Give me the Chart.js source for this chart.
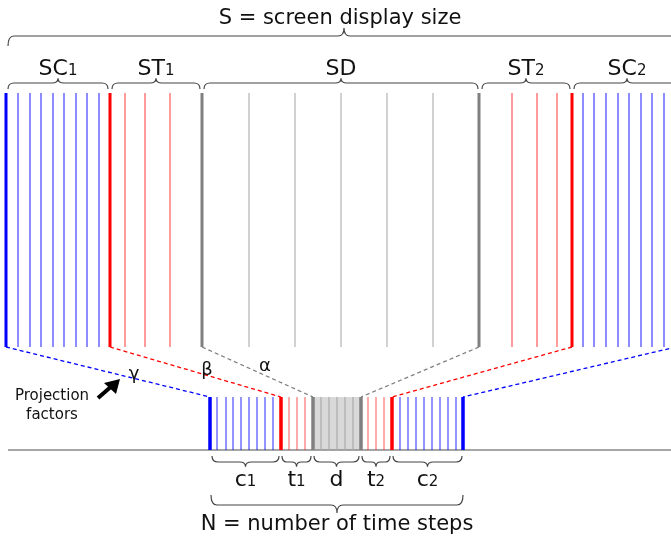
<!DOCTYPE html>
<html><head><meta charset="utf-8">
<script src="https://cdn.jsdelivr.net/npm/chart.js@4"></script>
<style>html,body{margin:0;padding:0;background:#fff}</style>
</head><body>
<canvas id="c" width="671" height="538"></canvas>
<script>
// Top (screen) lines
const topY = [93, 347];
const topBlueThick = [6, 676];
const topBlueThin = [18,30,41,53,64,76,87,99, 583,594,606,618,629,641,652,664];
const topRedThick = [110, 572];
const topRedThin = [125,145,170, 512,537,557];
const topGrayThick = [202, 479];
const topGrayThin = [249,295,341,387,433];
// Bottom (time step) lines
const botY = [397, 450];
const botBlueThick = [210, 463];
const botBlueThin = [217,226,233,241,249,257,265,273, 400,408,416,424,432,440,448,456];
const botRedThick = [281, 392];
const botRedThin = [289,297,305, 368,376,384];
const botGrayThick = [313, 361];
const botGrayThin = [321,329,337,345,353];
// projection pairs
const projTop = [6,110,202,479,572,676];
const projBot = [210,281,313,361,392,463];
const projCol = ['#0000ff','#ff0000','#808080','#808080','#ff0000','#0000ff'];
// braces: [x1,x2,label,sub]
const topBraces = [[8,108,'SC','1'],[112,200,'ST','1'],[204,478,'SD',''],[482,570,'ST','2'],[574,680,'SC','2']];
const botBraces = [[212,279,'c','1'],[282,311,'t','1'],[314,359,'d',''],[362,390,'t','2'],[393,462,'c','2']];

const ds = [];
function vlines(xs, ys, color, w){
  xs.forEach(x=>ds.push({data:[{x:x,y:ys[0]},{x:x,y:ys[1]}],borderColor:color,borderWidth:w,pointRadius:0,showLine:true,fill:false,order:1}));
}
ds.push({data:[{x:botGrayThick[0],y:botY[0]},{x:botGrayThick[1],y:botY[0]}],borderColor:'#d9d9d9',backgroundColor:'#d9d9d9',borderWidth:0,pointRadius:0,showLine:true,fill:{value:botY[1]},order:10});
ds.push({data:[{x:8,y:450},{x:671,y:450}],borderColor:'#888',borderWidth:1.5,pointRadius:0,showLine:true,order:5});
vlines(topBlueThin, topY, 'rgba(0,0,255,0.75)', 1.2);
vlines(topRedThin, topY, 'rgba(255,0,0,0.65)', 1.2);
vlines(topGrayThin, topY, 'rgba(128,128,128,0.6)', 1.2);
vlines(topBlueThick, topY, '#0000ff', 3);
vlines(topRedThick, topY, '#ff0000', 3);
vlines(topGrayThick, topY, '#808080', 3);
vlines(botBlueThin, botY, 'rgba(0,0,255,0.7)', 1.2);
vlines(botRedThin, botY, 'rgba(255,0,0,0.55)', 1.2);
vlines(botGrayThin, botY, '#aaaaaa', 1.2);
vlines(botBlueThick, botY, '#0000ff', 3.5);
vlines(botRedThick, botY, '#ff0000', 3.5);
vlines(botGrayThick, botY, '#808080', 3.5);
projTop.forEach((t,i)=>ds.push({data:[{x:t,y:topY[1]},{x:projBot[i],y:botY[0]}],borderColor:projCol[i],borderWidth:1.3,borderDash:[4,3],pointRadius:0,showLine:true,order:2}));

const FONT = '"DejaVu Sans", Verdana, sans-serif';
const overlay = {
  id:'overlay',
  afterDatasetsDraw(chart){
    const c = chart.ctx, X = v=>chart.scales.x.getPixelForValue(v), Y = v=>chart.scales.y.getPixelForValue(v);
    c.save();
    function brace(x1,x2,y,h,down){
      const a=X(x1), b=X(x2), yy=Y(y), m=(a+b)/2, s = down?1:-1, r=Math.min(6,(b-a)/6);
      c.beginPath(); c.strokeStyle='#444'; c.lineWidth=1.2;
      c.moveTo(a, yy+s*h);
      c.quadraticCurveTo(a, yy, a+r, yy);
      c.lineTo(m-r, yy);
      c.quadraticCurveTo(m, yy, m, yy-s*h*0.8);
      c.quadraticCurveTo(m, yy, m+r, yy);
      c.lineTo(b-r, yy);
      c.quadraticCurveTo(b, yy, b, yy+s*h);
      c.stroke();
    }
    function sub(txt, s, cx, y, fs){
      c.fillStyle='#111'; c.textBaseline='alphabetic';
      c.font = fs+'px '+FONT; const w1=c.measureText(txt).width;
      c.font = Math.round(fs*0.7)+'px '+FONT; const w2=s?c.measureText(s).width:0;
      const x0 = X(cx)-(w1+w2)/2;
      c.font = fs+'px '+FONT; c.textAlign='left'; c.fillText(txt, x0, Y(y));
      if(s){ c.font = Math.round(fs*0.7)+'px '+FONT; c.fillText(s, x0+w1, Y(y)); }
    }
    brace(8, 680, 36, 10, true);
    c.fillStyle='#111'; c.font='21px '+FONT; c.textAlign='center'; c.textBaseline='alphabetic';
    c.fillText('S = screen display size', X(340), Y(24));
    topBraces.forEach(b=>{ brace(b[0],b[1],83,6,true); sub(b[2],b[3],(b[0]+b[1])/2,75,22); });
    botBraces.forEach(b=>{ brace(b[0],b[1],462,6,false); sub(b[2],b[3],(b[0]+b[1])/2,486,22); });
    brace(211, 463, 505, 10, false);
    c.fillStyle='#111'; c.font='21px '+FONT; c.textAlign='center';
    c.fillText('N = number of time steps', X(337), Y(530));
    c.font='18px '+FONT;
    c.fillText('\u03b3', X(134), Y(379));
    c.fillText('\u03b2', X(207), Y(375));
    c.fillText('\u03b1', X(265), Y(371));
    c.font='15px '+FONT;
    c.fillText('Projection', X(52), Y(400));
    c.fillText('factors', X(52), Y(419));
    c.strokeStyle='#000'; c.fillStyle='#000'; c.lineWidth=4;
    c.beginPath(); c.moveTo(X(98),Y(398)); c.lineTo(X(113),Y(385)); c.stroke();
    c.beginPath(); c.moveTo(X(120),Y(379)); c.lineTo(X(104),Y(383)); c.lineTo(X(116),Y(394)); c.closePath(); c.fill();
    c.restore();
  }
};

new Chart(document.getElementById('c'), {
  type:'scatter',
  data:{datasets:ds},
  options:{
    responsive:false, animation:false,
    layout:{padding:0},
    plugins:{legend:{display:false},tooltip:{enabled:false}},
    scales:{
      x:{type:'linear',min:0,max:671,display:false},
      y:{type:'linear',min:0,max:538,reverse:true,display:false}
    }
  },
  plugins:[overlay]
});
</script>
</body></html>
